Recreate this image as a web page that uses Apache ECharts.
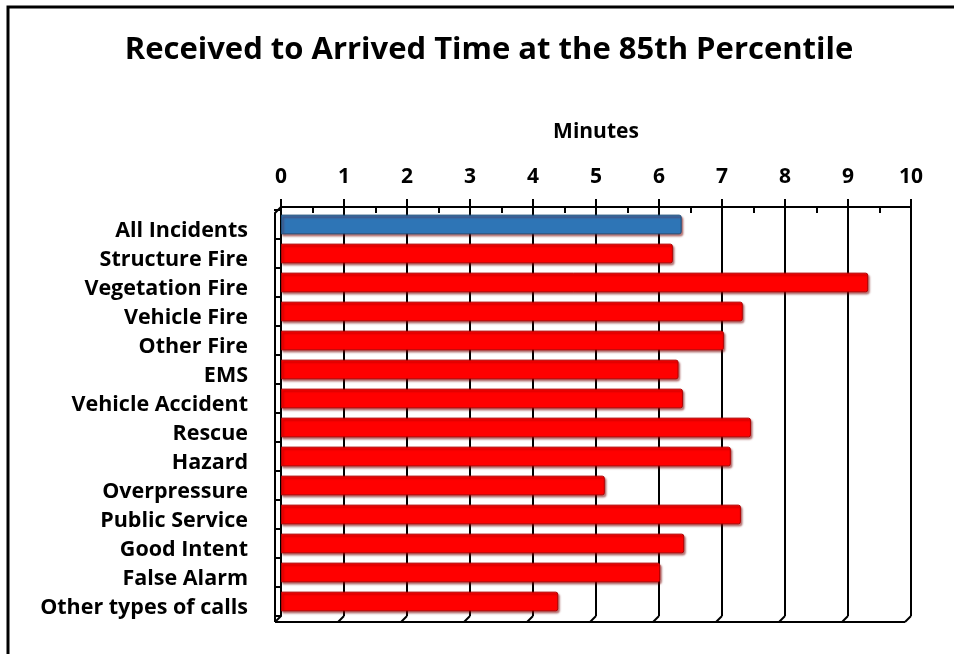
<!DOCTYPE html>
<html>
<head>
<meta charset="utf-8">
<style>
  html, body { margin: 0; padding: 0; background: #fff; }
  #chart { width: 954px; height: 654px; }
</style>
<script src="https://cdn.jsdelivr.net/npm/echarts@6/dist/echarts.min.js"></script>
</head>
<body>
<div id="chart"></div>
<script>
// Incident types, top to bottom
const categories = [
  'All Incidents', 'Structure Fire', 'Vegetation Fire', 'Vehicle Fire', 'Other Fire',
  'EMS', 'Vehicle Accident', 'Rescue', 'Hazard', 'Overpressure',
  'Public Service', 'Good Intent', 'False Alarm', 'Other types of calls'
];
// 85th percentile received-to-arrived time, minutes
const minutes = [6.36, 6.22, 9.32, 7.33, 7.03, 6.31, 6.38, 7.46, 7.14, 5.14, 7.30, 6.40, 6.02, 4.40];
const xTicks = [0, 1, 2, 3, 4, 5, 6, 7, 8, 9, 10];

const FONT = '"Open Sans"';
const BLUE = '#2e75b6';
const RED = '#ff0000';
const DEPTH = 6; // floor / wall depth in px

const chart = echarts.init(document.getElementById('chart'), null, { renderer: 'canvas' });

const gridBox = { left: 281, top: 210, width: 630, height: 406 };

const barData = minutes.map((v, i) => ({
  value: v,
  itemStyle: {
    color: i === 0 ? BLUE : RED,
    borderColor: i === 0 ? '#1f4e79' : '#b00000'
  }
}));

chart.setOption({
  backgroundColor: '#fff',
  animation: false,
  title: {
    text: 'Received to Arrived Time at the 85th Percentile',
    left: 484, top: 30, textAlign: 'center',
    textStyle: { fontFamily: FONT, fontWeight: 'bold', fontSize: 31, color: '#000' }
  },
  grid: Object.assign({ containLabel: false }, gridBox),
  xAxis: [{
    type: 'value', position: 'top', offset: 3,
    min: xTicks[0], max: xTicks[xTicks.length - 1], interval: 1,
    name: 'Minutes', nameLocation: 'middle', nameGap: 64,
    nameTextStyle: { fontFamily: FONT, fontWeight: 'bold', fontSize: 21, color: '#000' },
    axisLine: { show: true, lineStyle: { color: '#000', width: 2 } },
    axisTick: { show: true, inside: false, length: 8, lineStyle: { color: '#000', width: 2 } },
    axisLabel: { fontFamily: FONT, fontWeight: 'bold', fontSize: 21, color: '#000', margin: 19 },
    splitLine: { show: true, lineStyle: { color: '#000', width: 2 } }
  }, {
    // half-minute ticks pointing into the plot
    type: 'value', position: 'top', offset: 3,
    min: xTicks[0], max: xTicks[xTicks.length - 1], interval: 0.5,
    axisLine: { show: false },
    axisTick: { show: true, inside: true, length: 6, lineStyle: { color: '#000', width: 2 } },
    axisLabel: { show: false },
    splitLine: { show: false }
  }],
  yAxis: {
    type: 'category', data: categories, inverse: true, offset: DEPTH,
    axisLine: { show: true, lineStyle: { color: '#000', width: 2 } },
    axisTick: { show: true, length: 7, lineStyle: { color: '#000', width: 2 } },
    axisLabel: {
      fontFamily: FONT, fontWeight: 'bold', fontSize: 21.5, color: '#000', margin: 27,
      verticalAlign: 'top', lineHeight: 12
    },
    splitLine: { show: false }
  },
  series: [{
    type: 'bar', xAxisIndex: 0, data: barData, barCategoryGap: '32%',
    itemStyle: {
      borderWidth: 1,
      borderRadius: [0, 2, 2, 0],
      shadowColor: 'rgba(120,0,0,0.55)', shadowBlur: 2, shadowOffsetX: 1.5, shadowOffsetY: 2
    }
  }]
});

// 3D-style floor and side wall framing the plot, positioned from the axes
function drawFrame() {
  const px = v => chart.convertToPixel({ xAxisIndex: 0 }, v);
  const yTop = gridBox.top - 3;
  const yBack = gridBox.top + gridBox.height;
  const yFront = yBack + DEPTH;
  const x0 = px(xTicks[0]);
  const xN = px(xTicks[xTicks.length - 1]);
  const ls = { stroke: '#000', lineWidth: 2 };
  const els = [];
  // outer border of the chart panel
  els.push({ type: 'rect', shape: { x: 8, y: 7, width: 1000, height: 1000 }, style: { fill: 'none', stroke: '#000', lineWidth: 3 }, z: 100 });
  // left wall
  els.push({ type: 'polyline', shape: { points: [[x0, yTop], [x0 - DEPTH, yTop + DEPTH], [x0 - DEPTH, yFront]] }, style: ls, z: 50 });
  // floor front edge
  els.push({ type: 'line', shape: { x1: x0 - DEPTH, y1: yFront, x2: xN - DEPTH, y2: yFront }, style: ls, z: 50 });
  // floor slashes at each minute
  xTicks.forEach(t => {
    const x = px(t);
    els.push({ type: 'line', shape: { x1: x - DEPTH, y1: yFront, x2: x, y2: yBack }, style: ls, z: 50 });
  });
  chart.setOption({ graphic: { elements: els } });
}
drawFrame();
</script>
</body>
</html>
